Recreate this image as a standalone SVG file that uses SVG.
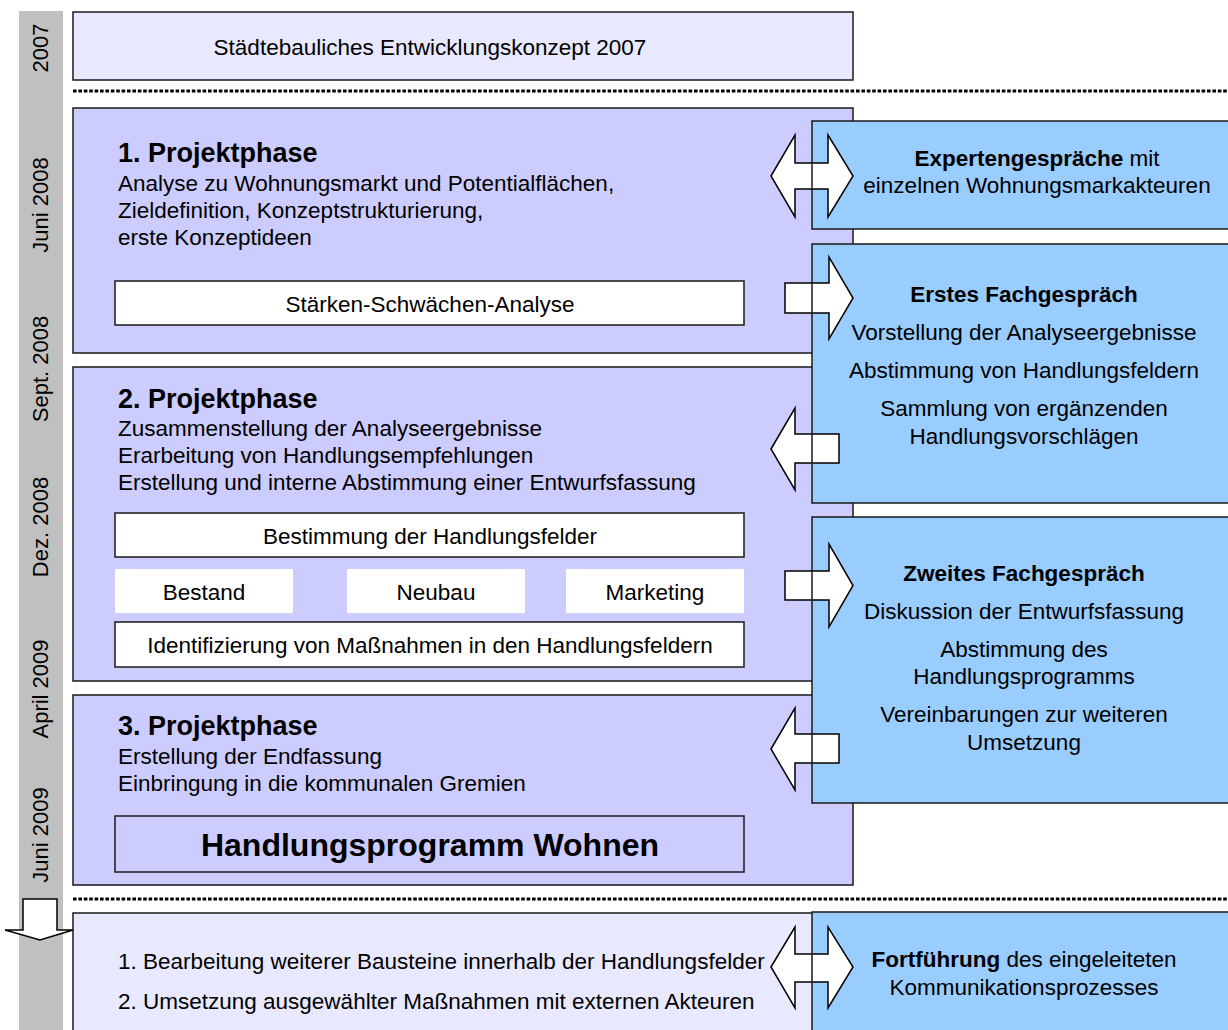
<svg xmlns="http://www.w3.org/2000/svg" width="1228" height="1030" viewBox="0 0 1228 1030">
<style>
text{font-family:"Liberation Sans",Arial,sans-serif;font-size:22.5px;fill:#000}
.c{text-anchor:middle}
.b{font-weight:bold}
.h{font-weight:bold;font-size:27px}
.big{font-weight:bold;font-size:32px;text-anchor:middle}
.t{text-anchor:middle;font-size:22px}
.lav{fill:#E8E8FF;stroke:#1a1a1a;stroke-width:1.5}
.ph{fill:#CCCCFF;stroke:#1a1a1a;stroke-width:1.5}
.wb{fill:#FFFFFF;stroke:#1a1a1a;stroke-width:1.5}
.wn{fill:#FFFFFF;stroke:none}
.bl{fill:#99CCFF;stroke:none}
.blo{fill:none;stroke:#1a1a1a;stroke-width:1.5}
.arr{fill:#FFFFFF;stroke:#000;stroke-width:1.5;stroke-linejoin:miter}
.dot{stroke:#000;stroke-width:3;stroke-dasharray:3.6 1.8;fill:none}
</style>
<rect x="0" y="0" width="1228" height="1030" fill="#FFFFFF"/>
<g id="timeline">
<rect x="19" y="11" width="44" height="1019" fill="#C0C0C0"/>
<text class="t" transform="translate(48,48) rotate(-90)">2007</text>
<text class="t" transform="translate(48,205) rotate(-90)">Juni 2008</text>
<text class="t" transform="translate(48,369) rotate(-90)">Sept. 2008</text>
<text class="t" transform="translate(48,527) rotate(-90)">Dez. 2008</text>
<text class="t" transform="translate(48,689) rotate(-90)">April 2009</text>
<text class="t" transform="translate(48,835) rotate(-90)">Juni 2009</text>
</g>
<g id="separators">
<line class="dot" x1="73" y1="91" x2="1228" y2="91"/>
<line class="dot" x1="73" y1="899" x2="1228" y2="899"/>
</g>
<g id="konzept2007">
<rect class="lav" x="73" y="12" width="780" height="68"/>
<text class="c" x="430" y="55">Städtebauliches Entwicklungskonzept 2007</text>
</g>
<g id="phase1">
<rect class="ph" x="73" y="108" width="780" height="245"/>
<text class="h" x="118" y="162">1. Projektphase</text>
<text x="118" y="191">Analyse zu Wohnungsmarkt und Potentialflächen,</text>
<text x="118" y="218">Zieldefinition, Konzeptstrukturierung,</text>
<text x="118" y="245">erste Konzeptideen</text>
<rect class="wb" x="115" y="281" width="629" height="44"/>
<text class="c" x="430" y="312">Stärken-Schwächen-Analyse</text>
</g>
<g id="phase2">
<rect class="ph" x="73" y="367" width="780" height="314"/>
<text class="h" x="118" y="408">2. Projektphase</text>
<text x="118" y="436">Zusammenstellung der Analyseergebnisse</text>
<text x="118" y="463">Erarbeitung von Handlungsempfehlungen</text>
<text x="118" y="490">Erstellung und interne Abstimmung einer Entwurfsfassung</text>
<rect class="wb" x="115" y="513" width="629" height="44"/>
<text class="c" x="430" y="544">Bestimmung der Handlungsfelder</text>
<rect class="wn" x="115" y="569" width="178" height="44"/>
<text class="c" x="204" y="600">Bestand</text>
<rect class="wn" x="347" y="569" width="178" height="44"/>
<text class="c" x="436" y="600">Neubau</text>
<rect class="wn" x="566" y="569" width="178" height="44"/>
<text class="c" x="655" y="600">Marketing</text>
<rect class="wb" x="115" y="622" width="629" height="45"/>
<text class="c" x="430" y="653">Identifizierung von Maßnahmen in den Handlungsfeldern</text>
</g>
<g id="phase3">
<rect class="ph" x="73" y="695" width="780" height="190"/>
<text class="h" x="118" y="735">3. Projektphase</text>
<text x="118" y="764">Erstellung der Endfassung</text>
<text x="118" y="791">Einbringung in die kommunalen Gremien</text>
<rect class="ph" x="115" y="816" width="629" height="56"/>
<text class="big" x="430" y="856">Handlungsprogramm Wohnen</text>
</g>
<g id="fortsetzung">
<rect class="lav" x="73" y="913" width="1200" height="140"/>
<text x="118" y="969">1. Bearbeitung weiterer Bausteine innerhalb der Handlungsfelder</text>
<text x="118" y="1009">2. Umsetzung ausgewählter Maßnahmen mit externen Akteuren</text>
</g>
<g id="bluefills">
<rect class="bl" x="812" y="121" width="430" height="108"/>
<rect class="bl" x="812" y="244" width="430" height="259"/>
<rect class="bl" x="812" y="517" width="430" height="286"/>
<rect class="bl" x="812" y="912" width="430" height="130"/>
</g>
<g id="connectors">
<polygon class="arr" points="771,176 795,135 795,163 828,163 828,135 853,176 828,217 828,189 795,189 795,217"/>
<polygon class="arr" points="785,283 829,283 829,257 853,298 829,339 829,313 785,313"/>
<polygon class="arr" points="771,449 795,408 795,434 839,434 839,463 795,463 795,490"/>
<polygon class="arr" points="785,571 829,571 829,544 853,585.5 829,627 829,600 785,600"/>
<polygon class="arr" points="771,749 795,708 795,734 839,734 839,763 795,763 795,790"/>
<polygon class="arr" points="771,967 795,927 795,954 828,954 828,927 853,967 828,1008 828,982 795,982 795,1008"/>
<polygon class="arr" points="23,899 57,899 57,930 73,930 40,940 5,930 23,930"/>
</g>
<g id="experten">
<rect class="blo" x="812" y="121" width="430" height="108"/>
<text class="c" x="1037" y="166"><tspan class="b">Expertengespräche</tspan> mit</text>
<text class="c" x="1037" y="193">einzelnen Wohnungsmarkakteuren</text>
</g>
<g id="fachgespraech1">
<rect class="blo" x="812" y="244" width="430" height="259"/>
<text class="c b" x="1024" y="302">Erstes Fachgespräch</text>
<text class="c" x="1024" y="340">Vorstellung der Analyseergebnisse</text>
<text class="c" x="1024" y="378">Abstimmung von Handlungsfeldern</text>
<text class="c" x="1024" y="416">Sammlung von ergänzenden</text>
<text class="c" x="1024" y="444">Handlungsvorschlägen</text>
</g>
<g id="fachgespraech2">
<rect class="blo" x="812" y="517" width="430" height="286"/>
<text class="c b" x="1024" y="581">Zweites Fachgespräch</text>
<text class="c" x="1024" y="619">Diskussion der Entwurfsfassung</text>
<text class="c" x="1024" y="657">Abstimmung des</text>
<text class="c" x="1024" y="684">Handlungsprogramms</text>
<text class="c" x="1024" y="722">Vereinbarungen zur weiteren</text>
<text class="c" x="1024" y="750">Umsetzung</text>
</g>
<g id="fortfuehrung">
<rect class="blo" x="812" y="912" width="430" height="130"/>
<text class="c" x="1024" y="967"><tspan class="b">Fortführung</tspan> des eingeleiteten</text>
<text class="c" x="1024" y="995">Kommunikationsprozesses</text>
</g>
</svg>
